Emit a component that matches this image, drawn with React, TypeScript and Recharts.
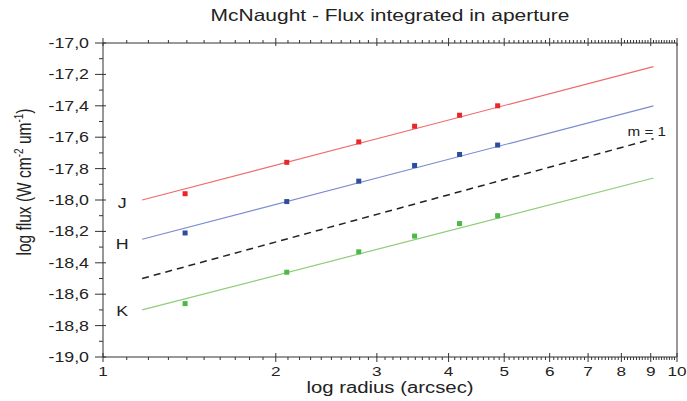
import {
  ComposedChart,
  Line,
  Scatter,
  XAxis,
  YAxis,
  ReferenceDot,
} from "recharts"

// measured points (radius in arcsec, log flux)
const radii = [1.39, 2.09, 2.79, 3.49, 4.18, 4.87]
const jFlux = [-17.96, -17.76, -17.63, -17.53, -17.46, -17.40]
const hFlux = [-18.21, -18.01, -17.88, -17.78, -17.71, -17.65]
const kFlux = [-18.66, -18.46, -18.33, -18.23, -18.15, -18.10]

// fit lines: end points
const fitX = [1.17, 9.1]
const jFit = [-18.0, -17.15]
const hFit = [-18.25, -17.4]
const slopeOne = [-18.5, -17.61]
const kFit = [-18.7, -17.86]

const bandLabels = ["J", "H", "K"]
const bandLabelY = [-18.048, -18.31, -18.74]
const bandLabelX = 1.08

const xTicks: number[] = []
for (let i = 10; i <= 100; i++) xTicks.push(i / 10)
const yTicks: number[] = []
for (let i = -190; i <= -170; i++) yTicks.push(i / 10)

const pts = (ys: number[]) => radii.map((x, i) => ({ x, y: ys[i] }))
const fit = (ys: number[]) => fitX.map((x, i) => ({ x, y: ys[i] }))

const FONT = "'Liberation Sans', Arial, sans-serif"
const AXIS = "#333"
const INK = "#222"
const SX = 1.27 // the original figure is stretched sideways

const isMajorX = (v: number) => Math.abs(v - Math.round(v)) < 1e-6
const isMajorY = (v: number) => Math.abs(v * 5 - Math.round(v * 5)) < 1e-6

function Txt({ x, y, anchor, size, children }: any) {
  return (
    <g transform={`translate(${x},${y}) scale(${SX},1)`}>
      <text x={0} y={0} textAnchor={anchor} fontSize={size} fill={INK} fontFamily={FONT}>
        {children}
      </text>
    </g>
  )
}

function BottomTick(props: any) {
  const { x, y, payload } = props
  const major = isMajorX(payload.value)
  return (
    <g>
      <line x1={x} x2={x} y1={y - (major ? 4 : 0)} y2={y + (major ? 5 : 3)} stroke={AXIS} />
      {major && (
        <Txt x={x} y={y + 18.5} anchor="middle" size={13.5}>
          {payload.value}
        </Txt>
      )}
    </g>
  )
}

function TopTick(props: any) {
  const { x, y, payload } = props
  const major = isMajorX(payload.value)
  return <line x1={x} x2={x} y1={y + (major ? 3 : 0)} y2={y - (major ? 5 : 3)} stroke={AXIS} />
}

function LeftTick(props: any) {
  const { x, y, payload } = props
  const major = isMajorY(payload.value)
  return (
    <g>
      <line x1={x - (major ? 8 : 4)} x2={x + (major ? 3 : 0)} y1={y} y2={y} stroke={AXIS} />
      {major && (
        <Txt x={x - 14} y={y + 5} anchor="end" size={14}>
          {payload.value.toFixed(1).replace(".", ",")}
        </Txt>
      )}
    </g>
  )
}

function RightTick(props: any) {
  const { x, y, payload } = props
  const major = isMajorY(payload.value)
  return <line x1={x - (major ? 3 : 0)} x2={x + (major ? 6 : 4)} y1={y} y2={y} stroke={AXIS} />
}

const square = (color: string) => (p: any) =>
  <rect x={p.cx - 2.5} y={p.cy - 2.5} width={5} height={5} fill={color} />

export default function App() {
  return (
    <div style={{ position: "absolute", left: 0, top: 0, width: 687, height: 401, background: "#fff", fontFamily: FONT }}>
      <div
        style={{
          position: "absolute",
          left: 103,
          width: 574,
          top: 5,
          lineHeight: "20px",
          textAlign: "center",
          fontSize: 16.5,
          color: INK,
          transform: `scaleX(${SX})`,
        }}
      >
        McNaught - Flux integrated in aperture
      </div>
      <div
        style={{
          position: "absolute",
          left: 103,
          width: 574,
          top: 380,
          lineHeight: "16px",
          textAlign: "center",
          fontSize: 16,
          color: INK,
          transform: `scaleX(${SX})`,
        }}
      >
        log radius (arcsec)
      </div>
      <div
        style={{
          position: "absolute",
          left: 22,
          top: 182,
          transform: `translate(-50%, -50%) rotate(-90deg) scaleY(${SX})`,
          whiteSpace: "nowrap",
          fontSize: 15.5,
          lineHeight: "18px",
          color: INK,
        }}
      >
        log flux (W cm<sup style={{ fontSize: 10 }}>-2</sup> um<sup style={{ fontSize: 10 }}>-1</sup>)
      </div>
      <ComposedChart
        width={687}
        height={401}
        margin={{ top: 33, right: 0, bottom: 0, left: 43 }}
        style={{ position: "absolute", left: 0, top: 0 }}
      >
        <XAxis
          dataKey="x"
          type="number"
          scale="log"
          domain={[1, 10]}
          ticks={xTicks}
          interval={0}
          tick={<BottomTick />}
          tickSize={0}
          tickMargin={0}
          tickLine={false}
          height={44}
          stroke={AXIS}
          allowDataOverflow
        />
        <XAxis
          xAxisId="top"
          orientation="top"
          dataKey="x"
          type="number"
          scale="log"
          domain={[1, 10]}
          ticks={xTicks}
          interval={0}
          tick={<TopTick />}
          tickSize={0}
          tickMargin={0}
          tickLine={false}
          height={10}
          stroke={AXIS}
          allowDataOverflow
        />
        <YAxis
          type="number"
          domain={[-19, -17]}
          ticks={yTicks}
          interval={0}
          tick={<LeftTick />}
          tickSize={0}
          tickMargin={0}
          tickLine={false}
          width={60}
          stroke={AXIS}
          allowDataOverflow
        />
        <YAxis
          yAxisId="right"
          orientation="right"
          type="number"
          domain={[-19, -17]}
          ticks={yTicks}
          interval={0}
          tick={<RightTick />}
          tickSize={0}
          tickMargin={0}
          tickLine={false}
          width={10}
          stroke={AXIS}
        />
        <Line data={fit(jFit)} dataKey="y" stroke="#f06a6a" strokeWidth={1.2} dot={false} isAnimationActive={false} />
        <Line data={fit(hFit)} dataKey="y" stroke="#7b8ccf" strokeWidth={1.2} dot={false} isAnimationActive={false} />
        <Line data={fit(slopeOne)} dataKey="y" stroke="#222" strokeWidth={1.5} strokeDasharray="7 5" dot={false} isAnimationActive={false} />
        <Line data={fit(kFit)} dataKey="y" stroke="#8fcc78" strokeWidth={1.2} dot={false} isAnimationActive={false} />
        <Scatter data={pts(jFlux)} dataKey="y" shape={square("#e8262c")} isAnimationActive={false} />
        <Scatter data={pts(hFlux)} dataKey="y" shape={square("#2d4d9e")} isAnimationActive={false} />
        <Scatter data={pts(kFlux)} dataKey="y" shape={square("#4cb848")} isAnimationActive={false} />
        {bandLabels.map((b, i) => (
          <ReferenceDot
            key={b}
            x={bandLabelX}
            y={bandLabelY[i]}
            ifOverflow="visible"
            shape={(p: any) => (
              <Txt x={p.cx} y={p.cy} anchor="middle" size={14}>
                {b}
              </Txt>
            )}
          />
        ))}
        <ReferenceDot
          x={8.86}
          y={-17.594}
          ifOverflow="visible"
          shape={(p: any) => (
            <Txt x={p.cx} y={p.cy} anchor="middle" size={12}>
              m = 1
            </Txt>
          )}
        />
      </ComposedChart>
    </div>
  )
}
